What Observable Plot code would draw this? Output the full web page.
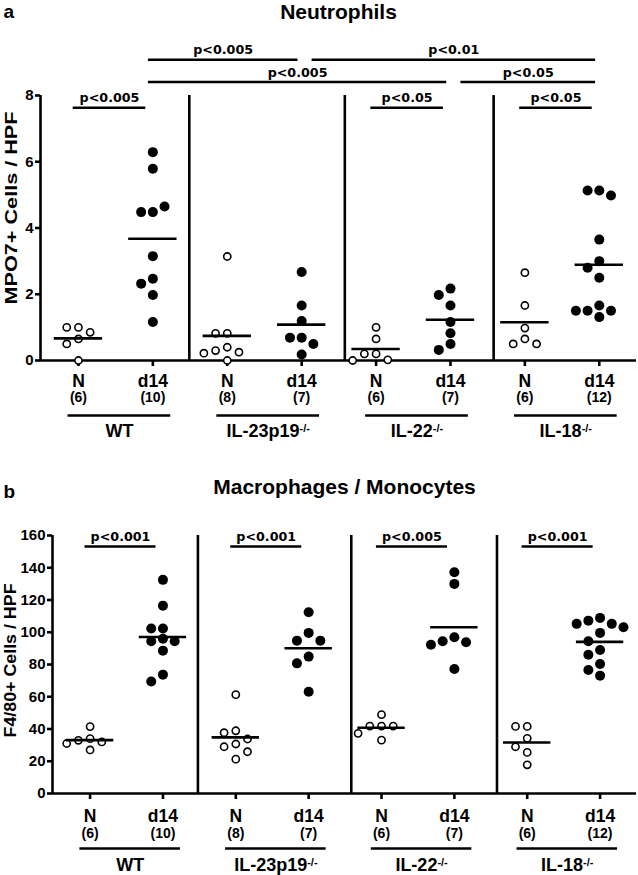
<!DOCTYPE html>
<html><head><meta charset="utf-8">
<script src="https://cdn.jsdelivr.net/npm/d3@7"></script>
<script src="https://cdn.jsdelivr.net/npm/@observablehq/plot@0.6"></script>
<style>body{margin:0;background:#fff} #chart{width:638px} svg{display:block}</style>
</head><body><div id="chart"></div>
<script>
// ---------- data ----------
const groups = ["WT", "IL-23p19-/-", "IL-22-/-", "IL-18-/-"];
const conditions = ["N", "d14"];
const sampleSizes = [6, 10, 8, 7, 6, 7, 6, 12];

// Panel a: MPO7+ cells / HPF (Neutrophils)
const neutWT_N    = [1.0, 1.0, 0.85, 0.65, 0.5, 0];
const neutWT_d14  = [6.29, 5.79, 4.48, 4.48, 4.65, 3.15, 2.47, 2.32, 1.98, 1.16];
const neutIL23_N  = [3.14, 0.82, 0.82, 0.4, 0.3, 0.25, 0.22, 0];
const neutIL23_d14= [2.67, 1.66, 1.19, 0.69, 0.69, 0.5, 0.18];
const neutIL22_N  = [1.0, 0.65, 0.2, 0.2, 0.02, 0];
const neutIL22_d14= [2.17, 1.98, 1.66, 1.16, 0.82, 0.5, 0.32];
const neutIL18_N  = [2.65, 1.66, 0.98, 0.65, 0.5, 0.5];
const neutIL18_d14= [5.13, 5.13, 4.98, 3.65, 3.0, 2.8, 2.5, 1.66, 1.5, 1.5, 1.5, 1.31];

// Panel b: F4/80+ cells / HPF (Macrophages / Monocytes)
const macWT_N     = [41.5, 34, 33, 32, 31, 27];
const macWT_d14   = [132.5, 116.5, 102.3, 102.3, 96, 94.4, 94.4, 88.6, 73.7, 69.5];
const macIL23_N   = [61.3, 38.9, 37.7, 33.8, 30.7, 29, 25.9, 21.3];
const macIL23_d14 = [112.4, 99.6, 94.8, 94.8, 84.9, 80.7, 63.1];
const macIL22_N   = [48.9, 41.8, 41.8, 41.8, 37.3, 33.1];
const macIL22_d14 = [137.2, 130, 96.9, 94.4, 93.8, 92.3, 77.2];
const macIL18_N   = [41.6, 41.6, 34.2, 29, 25.5, 17.8];
const macIL18_d14 = [108.9, 107.2, 105.2, 105.2, 103.1, 99.6, 94.4, 89, 86.1, 80.3, 76.6, 73.1];

// p-value comparisons [from category, to category, label]
const neutComparisons = [[0,1,"p<0.005"], [1,3,"p<0.005"], [1,5,"p<0.005"], [3,7,"p<0.01"], [4,5,"p<0.05"], [5,7,"p<0.05"], [6,7,"p<0.05"]];
const macComparisons  = [[0,1,"p<0.001"], [2,3,"p<0.001"], [4,5,"p<0.005"], [6,7,"p<0.001"]];

const neutTicks = [0, 2, 4, 6, 8];
const macTicks = [0, 20, 40, 60, 80, 100, 120, 140, 160];

// ---------- layout ----------
const W = 638;
const FONT = "'Liberation Sans', Arial, Helvetica, sans-serif";
const LW = 2.6;

function swarm(values, idx, pxX, pxY, diam) {
  const stepPx = 11.7;
  const placed = [];
  const out = [];
  const cand = [0, -1, 1, -2, 2, -3, 3];
  for (const v of values) {
    for (const c of cand) {
      const ok = placed.every(p => {
        const dx = (c - p.c) * stepPx, dy = (v - p.v) * pxY;
        return dx * dx + dy * dy >= diam * diam - 0.01;
      });
      if (ok) { placed.push({c, v}); out.push({x: idx + c * stepPx / pxX, value: v, filled: idx % 2 === 1}); break; }
    }
  }
  return out;
}

function panel(cfg) {
  const {values, height, mt, mb, ml, mr, xDomain, yMax, ticks, yLabel, yLabelDx, yLabelDy, yLabelLen,
         title, titleBase, letter, letterBase, comparisons, rowOf, rowPx, xl} = cfg;
  const pxX = (W - ml - mr) / (xDomain[1] - xDomain[0]);
  const pxY = (height - mt - mb) / yMax;
  const points = values.flatMap((vals, i) => swarm(vals, i, pxX, pxY, i % 2 ? 10 : 8.5));
  const means = values.map((vals, i) => ({i, mean: d3.mean(vals)}));
  const cats = d3.range(8).map(i => ({i, cond: conditions[i % 2], n: `(${sampleSizes[i]})`}));
  const grp = groups.map((g, k) => ({g, x1: 2 * k - 0.14, x2: 2 * k + 1 + 0.24}));
  const br = comparisons.map(([from, to, label], j) => {
    const row = rowOf(from, to);
    const shared = comparisons.some(([f2, t2], k) => k !== j && t2 === from && rowOf(f2, t2) === row);
    let x1, x2;
    if (to - from === 1) { x1 = from - 0.07; x2 = to - 0.095; }
    else { x1 = shared ? from + 0.14 : from - 0.06; x2 = to - 0.05; }
    return {x1, x2, label, y: yMax + rowPx[row] / pxY};
  });
  const text = d => d;
  const svg = Plot.plot({
    width: W, height, marginTop: mt, marginBottom: mb, marginLeft: ml, marginRight: mr,
    style: {fontFamily: FONT, fontWeight: "bold", fontSize: "15px", background: "white", overflow: "visible", color: "black"},
    x: {domain: xDomain, axis: null},
    y: {domain: [0, yMax], axis: null},
    marks: [
      // separators and axes
      Plot.ruleX(cfg.separators, {x: d => d, y1: 0, y2: yMax, strokeWidth: LW}),
      Plot.ruleX([xDomain[0]], {x: d => d, y1: 0, y2: yMax, strokeWidth: LW}),
      Plot.ruleY([0], {strokeWidth: LW}),
      Plot.axisY({ticks, tickSize: 5, tickPadding: 2, fontSize: xl.tick, strokeWidth: LW, label: null, anchor: "left"}),
      Plot.ruleX(d3.range(8), {x: d => d, y1: 0, y2: -6 / pxY, strokeWidth: LW}),
      // data
      Plot.dot(points.filter(d => !d.filled), {x: "x", y: "value", r: 3.6, fill: "white", stroke: "black", strokeWidth: 1.6}),
      Plot.dot(points.filter(d => d.filled), {x: "x", y: "value", r: 5, fill: "black"}),
      Plot.ruleY(means, {y: "mean", x1: d => d.i - 0.325, x2: d => d.i + 0.325, strokeWidth: LW}),
      // x labels
      Plot.text(cats, {x: "i", y: 0, text: "cond", dy: xl.cond, lineAnchor: "middle", fontSize: 17.5}),
      Plot.text(cats, {x: "i", y: 0, text: "n", dy: xl.n, lineAnchor: "middle", fontSize: 14}),
      Plot.ruleY(grp, {y: 0, x1: "x1", x2: "x2", dy: xl.line, strokeWidth: LW}),
      Plot.text(grp, {x: d => (d.x1 + d.x2) / 2, y: 0, text: "g", dy: xl.group, lineAnchor: "middle", fontSize: 18}),
      // brackets
      Plot.ruleY(br, {y: "y", x1: "x1", x2: "x2", strokeWidth: LW}),
      Plot.text(br, {x: d => (d.x1 + d.x2) / 2, y: "y", text: "label", dy: -5.5, lineAnchor: "bottom", fontFamily: "'DejaVu Sans', sans-serif", fontSize: 12.7}),
      // titles
      Plot.text([yLabel], {frameAnchor: "left", text, rotate: -90, dx: yLabelDx, dy: yLabelDy, lineAnchor: "middle", textAnchor: "middle", fontSize: 16.5}),
      Plot.text([title], {frameAnchor: "top", text, dy: titleBase - mt, lineAnchor: "bottom", fontSize: 21}),
      Plot.text([letter], {frameAnchor: "top-left", text, dx: 3 - ml, dy: letterBase - mt, lineAnchor: "bottom", textAnchor: "start", fontSize: 19})
    ]
  });
  svg.querySelectorAll("text").forEach(t => {
    const s = t.textContent;
    if (t.children.length === 0 && s.endsWith("-/-")) {
      // superscript knockout labels
      t.textContent = s.slice(0, -3);
      const ts = document.createElementNS("http://www.w3.org/2000/svg", "tspan");
      ts.setAttribute("dy", "-0.45em");
      ts.setAttribute("font-size", "11px");
      ts.textContent = "-/-";
      t.appendChild(ts);
    } else if (t.children.length === 0 && s === yLabel) {
      t.setAttribute("textLength", yLabelLen);
      t.setAttribute("lengthAdjust", "spacingAndGlyphs");
    }
  });
  return svg;
}

const chart = document.getElementById("chart");
chart.appendChild(panel({
  values: [neutWT_N, neutWT_d14, neutIL23_N, neutIL23_d14, neutIL22_N, neutIL22_d14, neutIL18_N, neutIL18_d14],
  height: 440, mt: 95, mb: 80, ml: 40, mr: 2, xDomain: [-0.51, 7.5], yMax: 8, ticks: neutTicks,
  yLabel: "MPO7+ Cells / HPF", yLabelDx: -29, yLabelDy: -20, yLabelLen: 193,
  title: "Neutrophils", titleBase: 18.5, letter: "a", letterBase: 17,
  comparisons: neutComparisons,
  rowOf: (f, t) => (t - f === 1 ? 2 : (f === 1 && t === 3) || (f === 3 && t === 7) ? 0 : 1),
  rowPx: [35.7, 13.5, -12.3],
  separators: [1.49, 3.58, 5.58],
  xl: {cond: 21, n: 37.5, line: 55, group: 71, tick: 15}
}));
chart.appendChild(panel({
  values: [macWT_N, macWT_d14, macIL23_N, macIL23_d14, macIL22_N, macIL22_d14, macIL18_N, macIL18_d14],
  height: 435, mt: 95, mb: 82, ml: 52, mr: 2, xDomain: [-0.516, 7.5], yMax: 160, ticks: macTicks,
  yLabel: "F4/80+ Cells / HPF", yLabelDx: -42, yLabelDy: -4, yLabelLen: 154,
  title: "Macrophages / Monocytes", titleBase: 53.3, letter: "b", letterBase: 57,
  comparisons: macComparisons,
  rowOf: () => 0,
  rowPx: [-11],
  separators: [1.48, 3.585, 5.585],
  xl: {cond: 22.5, n: 40, line: 55, group: 71.5, tick: 15}
}));
</script></body></html>
